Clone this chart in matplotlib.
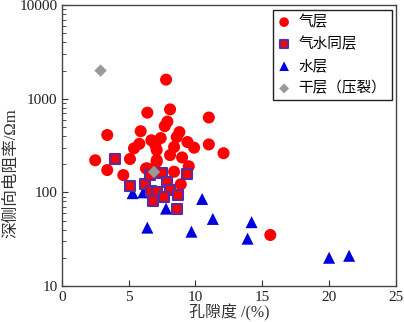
import matplotlib
matplotlib.use("Agg")
import matplotlib.pyplot as plt
from matplotlib.ticker import LogLocator, NullFormatter, FixedLocator

plt.rcParams["font.family"] = ["Liberation Serif", "Noto Sans CJK SC", "DejaVu Sans"]

# 气层
gas_x = [7.8, 6.4, 8.1, 11.0, 7.9, 7.7, 3.4, 5.9, 8.8, 8.6, 6.7, 7.4, 9.4,
         5.8, 7.0, 8.4, 9.9, 11.0, 5.4, 7.1, 12.1, 8.1, 9.0, 2.5, 5.1, 7.1,
         9.5, 3.4, 6.4, 8.4, 4.6, 8.9, 7.1, 6.3, 15.6]
gas_y = [1600, 710, 770, 630, 570, 510, 410, 450, 440, 390, 360, 380, 345,
         330, 320, 305, 300, 325, 295, 283, 262, 250, 236, 220, 227, 221,
         190, 173, 180, 166, 153, 122, 212, 180, 35]

# 气水同层
gw_x = [4.0, 5.1, 6.2, 6.6, 7.5, 6.7, 7.1, 6.8, 7.9, 8.1, 8.7, 7.65, 8.65, 9.4]
gw_y = [225, 118, 123, 153, 162, 103, 101, 81, 128, 105, 94, 90, 66, 158]

# 水层
water_x = [5.3, 6.1, 6.4, 7.8, 9.7, 10.5, 11.3, 14.2, 13.9, 20.0, 21.5]
water_y = [98, 100, 42, 67, 38, 85, 52, 48, 32, 20, 21]

# 干层（压裂）
dry_x = [2.9, 6.9]
dry_y = [2000, 165]

fig = plt.figure(figsize=(4.04, 3.22), dpi=100)
ax = fig.add_axes([0.153, 0.112, 0.827, 0.872])

ax.scatter(gas_x, gas_y, s=75, marker="o", color="#ff0000", edgecolors="none",
           label="气层", zorder=3)
ax.scatter(gw_x, gw_y, s=55, marker="s", color="#ff0000", edgecolors="#5a2ca0",
           linewidths=1.5, label="气水同层", zorder=4)
ax.scatter(water_x, water_y, s=75, marker="^", color="#0000dd", edgecolors="none",
           label="水层", zorder=2)
ax.scatter(dry_x, dry_y, s=40, marker="D", color="#999999", edgecolors="none",
           label="干层（压裂）", zorder=5)

ax.set_yscale("log")
ax.set_xlim(0, 25)
ax.set_ylim(10, 10000)
ax.xaxis.set_major_locator(FixedLocator([0, 5, 10, 15, 20, 25]))
ax.yaxis.set_major_locator(LogLocator(base=10))
ax.yaxis.set_minor_locator(LogLocator(base=10, subs=range(2, 10)))
ax.yaxis.set_minor_formatter(NullFormatter())
ax.set_yticks([10, 100, 1000, 10000])
ax.set_yticklabels(["10", "100", "1000", "10000"])

ax.tick_params(axis="both", which="both", direction="in", labelsize=11,
               colors="#333333", labelcolor="#222222")
ax.tick_params(which="major", length=4)
ax.tick_params(which="minor", length=3)
ax.tick_params(axis="x", pad=4)
ax.tick_params(axis="y", pad=3)
for sp in ax.spines.values():
    sp.set_color("#444444")
    sp.set_linewidth(1.0)

ax.set_xlabel("孔隙度 /(%)", fontsize=11.5, color="#333333", labelpad=0)
ax.set_ylabel("深侧向电阻率/Ωm", fontsize=12, color="#333333")
ax.yaxis.set_label_coords(-0.128, 0.40)

leg = ax.legend(loc="upper right", fontsize=10.5, frameon=True, fancybox=False,
                edgecolor="#222222", framealpha=1, borderpad=0.35,
                handletextpad=0.6, labelspacing=0.55, handlelength=0.8,
                borderaxespad=0.3, markerscale=0.8)
leg.get_frame().set_linewidth(1.0)

fig.savefig("out.png", dpi=100)
